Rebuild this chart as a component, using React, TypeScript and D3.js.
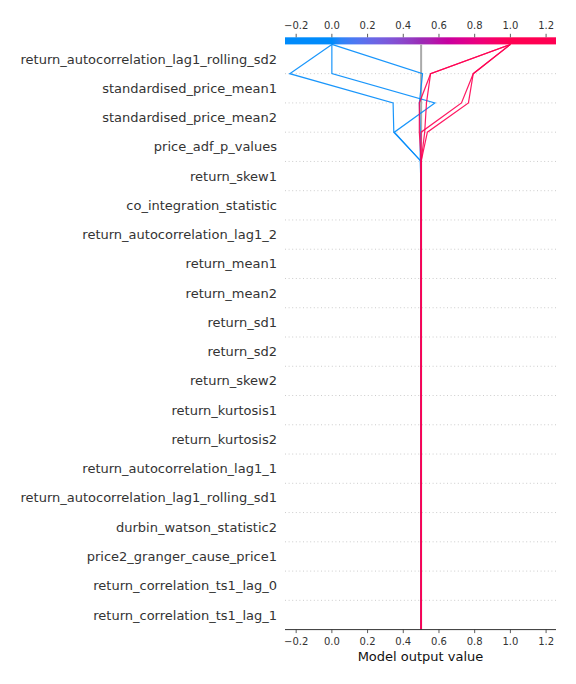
import React from "react";
import * as d3 from "d3";

// features, top to bottom
const features = [
    "return_autocorrelation_lag1_rolling_sd2",
    "standardised_price_mean1",
    "standardised_price_mean2",
    "price_adf_p_values",
    "return_skew1",
    "co_integration_statistic",
    "return_autocorrelation_lag1_2",
    "return_mean1",
    "return_mean2",
    "return_sd1",
    "return_sd2",
    "return_skew2",
    "return_kurtosis1",
    "return_kurtosis2",
    "return_autocorrelation_lag1_1",
    "return_autocorrelation_lag1_rolling_sd1",
    "durbin_watson_statistic2",
    "price2_granger_cause_price1",
    "return_correlation_ts1_lag_0",
    "return_correlation_ts1_lag_1",
];

const baseValue = 0.5;

// shap values per observation, same order as features
const obsBlue1 = [0.236, -0.579, -0.004, -0.153, 0, 0, 0, 0, 0, 0, 0, 0, 0, 0, 0, 0, 0, 0, 0, 0];
const obsBlue2 = [0.0, -0.577, 0.227, -0.15, 0, 0, 0, 0, 0, 0, 0, 0, 0, 0, 0, 0, 0, 0, 0, 0];
const obsBlue3 = [-0.508, 0.018, -0.005, 0.0, -0.005, 0, 0, 0, 0, 0, 0, 0, 0, 0, 0, 0, 0, 0, 0, 0];
const obsRed1 = [0.447, 0.063, 0.0, -0.01, 0, 0, 0, 0, 0, 0, 0, 0, 0, 0, 0, 0, 0, 0, 0, 0];
const obsRed2 = [0.447, 0.023, 0.01, 0.02, 0, 0, 0, 0, 0, 0, 0, 0, 0, 0, 0, 0, 0, 0, 0, 0];
const obsRed3 = [0.208, 0.066, 0.226, 0.0, 0, 0, 0, 0, 0, 0, 0, 0, 0, 0, 0, 0, 0, 0, 0, 0];
const obsRed4 = [0.208, 0.027, 0.23, 0.035, 0, 0, 0, 0, 0, 0, 0, 0, 0, 0, 0, 0, 0, 0, 0, 0];

const observations = [obsBlue1, obsBlue2, obsBlue3, obsRed1, obsRed2, obsRed3, obsRed4];

const xTicks = [-0.2, 0.0, 0.2, 0.4, 0.6, 0.8, 1.0, 1.2];

const width = 576;
const height = 684;
const margin = {top: 44.4, right: 20, bottom: 54.4, left: 285};
const plotRight = 556;
const plotBottom = height - margin.bottom;

const font = "DejaVu Sans, sans-serif";

const redBlue = d3.scaleLinear<string>()
    .domain([0, 0.5, 1])
    .range(["#008bfb", "#9a2bb5", "#ff0052"])
    .interpolate(d3.interpolateHcl)
    .clamp(true);

type Pt = { v: number; y: number };

const App: React.FC = () => {
    const n = features.length;
    const x = d3.scaleLinear().domain([-0.2625, 1.2555]).range([margin.left, plotRight]);
    const y = d3.scaleLinear().domain([0, n]).range([plotBottom, margin.top]);

    const line = d3.line<Pt>().x(d => x(d.v)).y(d => y(d.y));

    const paths = observations.map(obs => {
        let cum = baseValue;
        const pts: Pt[] = [{v: cum, y: 0}];
        for (let k = n - 1; k >= 0; k--) {
            cum += obs[k];
            pts.push({v: cum, y: n - k});
        }
        return {d: line(pts) || "", color: redBlue(cum)};
    });

    const gradStops = d3.range(0, 1.0001, 0.05);
    const cbTop = 37.3;

    return (
        <svg width={width} height={height} style={{position: "absolute", left: 0, top: 0}}>
            <defs>
                <linearGradient id="cb" gradientUnits="userSpaceOnUse" x1={x(0)} x2={x(1)} y1={0} y2={0}>
                    {gradStops.map(t => (
                        <stop key={t} offset={t} stopColor={redBlue(t)}/>
                    ))}
                </linearGradient>
            </defs>
            <rect width={width} height={height} fill="white"/>

            {/* colorbar on top */}
            <rect x={margin.left} y={cbTop} width={plotRight - margin.left} height={margin.top - cbTop}
                  fill="url(#cb)"/>
            {xTicks.map(t => (
                <g key={"tt" + t} transform={`translate(${x(t)},0)`}>
                    <line y1={cbTop} y2={cbTop - 3.5} stroke="#333" strokeWidth={0.8}/>
                    <text y={cbTop - 8} textAnchor="middle" fontFamily={font} fontSize={10} fill="#333">
                        {d3.format(".1f")(t).replace("-", "\u2212")}
                    </text>
                </g>
            ))}

            {/* dotted row lines */}
            {d3.range(1, n).map(i => (
                <line key={"h" + i} x1={margin.left} x2={plotRight} y1={y(i)} y2={y(i)}
                      stroke="#cccccc" strokeWidth={1} strokeDasharray="1,2.6"/>
            ))}

            {/* base value */}
            <line x1={x(baseValue)} x2={x(baseValue)} y1={margin.top} y2={plotBottom}
                  stroke="#aaaaaa" strokeWidth={2}/>

            {paths.map((p, i) => (
                <path key={"p" + i} d={p.d} fill="none" stroke={p.color} strokeWidth={1.2}
                      strokeOpacity={0.9}/>
            ))}

            {/* feature labels */}
            {features.map((f, i) => (
                <text key={f} x={277} y={y(n - i - 0.5)} dy="0.35em" textAnchor="end"
                      fontFamily={font} fontSize={13} fill="#333">
                    {f}
                </text>
            ))}

            {/* bottom axis */}
            <line x1={margin.left} x2={plotRight} y1={plotBottom} y2={plotBottom} stroke="#333" strokeWidth={1}/>
            {xTicks.map(t => (
                <g key={"bt" + t} transform={`translate(${x(t)},${plotBottom})`}>
                    <line y1={0} y2={3.5} stroke="#333" strokeWidth={0.8}/>
                    <text y={15} textAnchor="middle" fontFamily={font} fontSize={10} fill="#333">
                        {d3.format(".1f")(t).replace("-", "\u2212")}
                    </text>
                </g>
            ))}
            <text x={(margin.left + plotRight) / 2} y={661} textAnchor="middle" fontFamily={font}
                  fontSize={13} fill="#111">
                Model output value
            </text>
        </svg>
    );
};

export default App;
